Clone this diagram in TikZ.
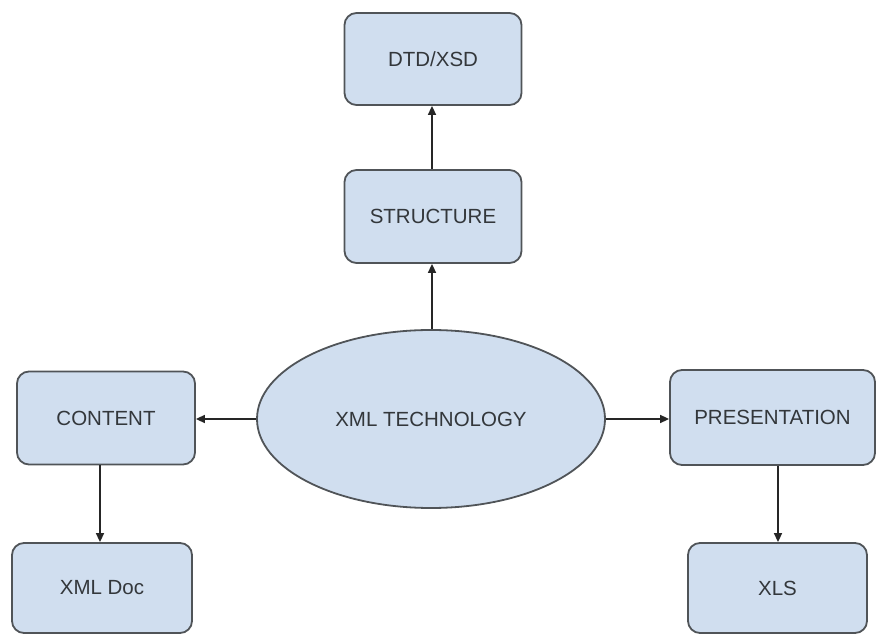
\documentclass[tikz,border=0pt]{standalone}
\usepackage{fontspec}
\setmainfont{Liberation Sans}
\usetikzlibrary{shapes.geometric,arrows.meta}
\definecolor{boxfill}{HTML}{D0DEEF}
\definecolor{boxline}{HTML}{505458}
\definecolor{txt}{HTML}{33373B}
\tikzset{
  x=1pt, y=1pt,
  base/.style={draw=boxline, line width=1.8pt, fill=boxfill, text=txt,
    font=\fontsize{20.5}{24}\selectfont, inner sep=0pt},
  rbox/.style={base, rectangle, rounded corners=12pt},
  oval/.style={base, ellipse},
  arr/.style={draw=black!85, line width=1.6pt, -{Triangle[length=9pt,width=8pt]}}
}
\begin{document}
\begin{tikzpicture}
\useasboundingbox (0,0) rectangle (877,634);
% y measured downward from the top edge
\node[rbox, minimum width=177pt, minimum height=92pt] (dtd) at (433,634-59) {DTD/XSD};
\node[rbox, minimum width=177pt, minimum height=93pt] (str) at (433,634-216.5) {STRUCTURE};
\node[oval, minimum width=348pt, minimum height=178pt] (tech) at (431,634-419) {XML TECHNOLOGY};
\node[rbox, minimum width=178pt, minimum height=93pt] (content) at (106,634-418) {CONTENT};
\node[rbox, minimum width=205pt, minimum height=95pt] (pres) at (772.5,634-417.5) {PRESENTATION};
\node[rbox, minimum width=180pt, minimum height=90pt] (xmldoc) at (102,634-588) {XML Doc};
\node[rbox, minimum width=179pt, minimum height=90pt] (xls) at (777.5,634-588) {XLS};
% connectors
\coordinate (tn) at ([xshift=1pt]tech.north);
\draw[arr] (tn) -- (tn |- str.south);
\draw[arr] (str.north -| tn) -- (tn |- dtd.south);
\draw[arr] (tech.west) -- (tech.west -| content.east);
\draw[arr] (tech.east) -- (tech.east -| pres.west);
\coordinate (cs) at ([xshift=-6pt]content.south);
\draw[arr] (cs) -- (cs |- xmldoc.north);
\coordinate (ps) at ([xshift=5.5pt]pres.south);
\draw[arr] (ps) -- (ps |- xls.north);
\end{tikzpicture}
\end{document}
